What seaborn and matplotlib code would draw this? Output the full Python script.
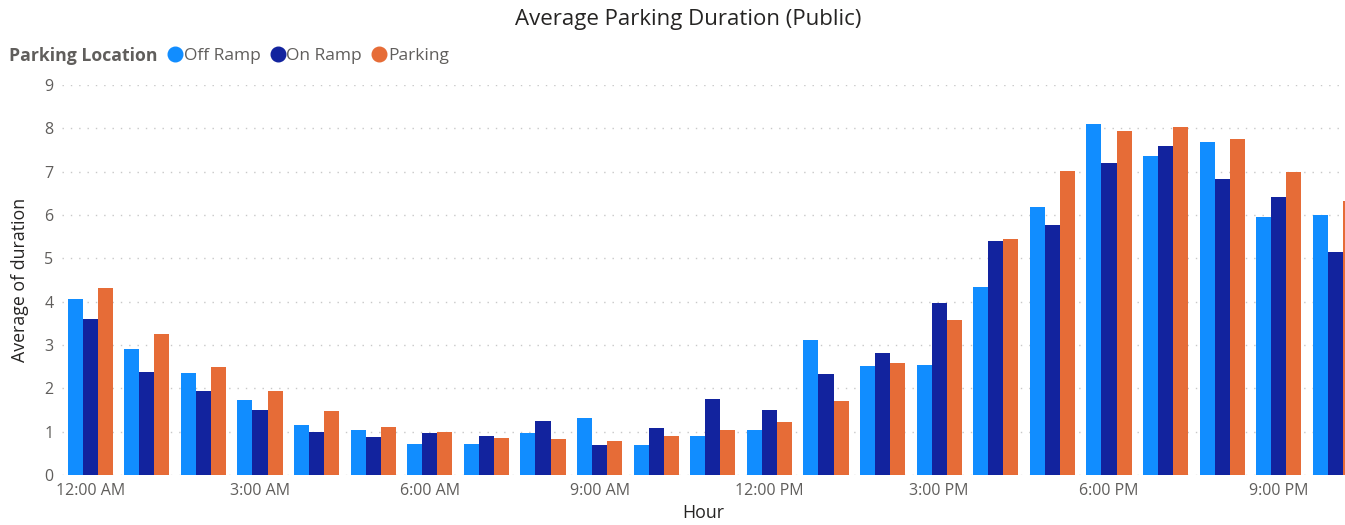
import matplotlib.pyplot as plt
import pandas as pd
import seaborn as sns
from matplotlib.lines import Line2D

hours = ['12:00 AM', '1:00 AM', '2:00 AM', '3:00 AM', '4:00 AM', '5:00 AM',
         '6:00 AM', '7:00 AM', '8:00 AM', '9:00 AM', '10:00 AM', '11:00 AM',
         '12:00 PM', '1:00 PM', '2:00 PM', '3:00 PM', '4:00 PM', '5:00 PM',
         '6:00 PM', '7:00 PM', '8:00 PM', '9:00 PM', '10:00 PM']

off_ramp = [4.05, 2.90, 2.36, 1.73, 1.16, 1.05, 0.71, 0.71, 0.98, 1.32, 0.70, 0.90,
            1.04, 3.12, 2.51, 2.54, 4.34, 6.19, 8.09, 7.37, 7.69, 5.96, 5.99]
on_ramp = [3.60, 2.38, 1.95, 1.49, 1.00, 0.88, 0.98, 0.89, 1.25, 0.69, 1.09, 1.75,
           1.50, 2.32, 2.81, 3.98, 5.39, 5.78, 7.20, 7.58, 6.84, 6.42, 5.14]
parking = [4.32, 3.25, 2.49, 1.93, 1.47, 1.10, 1.00, 0.86, 0.83, 0.79, 0.90, 1.04,
           1.23, 1.70, 2.59, 3.58, 5.45, 7.01, 7.94, 8.02, 7.75, 6.99, 6.32]

locations = ['Off Ramp', 'On Ramp', 'Parking']
plt_colors = {'Off Ramp': '#118DFF', 'On Ramp': '#12239E', 'Parking': '#E66C37'}

df = pd.DataFrame({
    'hour': hours * 3,
    'duration': off_ramp + on_ramp + parking,
    'location': [loc for loc in locations for _ in hours],
})

sns.set_style('white')
plt.rcParams['font.family'] = ['Open Sans', 'DejaVu Sans']

fig = plt.figure(figsize=(13.45, 5.25), dpi=100)
ax = fig.add_axes([0.046, 0.0952, 0.954, 0.743])

sns.barplot(df, x='hour', y='duration', hue='location', order=hours,
            hue_order=locations, palette=plt_colors, saturation=1,
            width=0.8, ax=ax, legend=False, linewidth=0)

ax.set_xlim(-0.5, 22.17)
ax.set_ylim(0, 9)
ax.set_yticks(range(0, 10))
ax.yaxis.grid(True, linestyle=(0, (1, 5)), color='#c8c8c8', linewidth=1)
ax.set_axisbelow(True)
for s in ax.spines.values():
    s.set_visible(False)

ax.set_xticks(range(0, 23, 3))
ax.set_xticklabels(hours[::3])
ax.tick_params(axis='both', length=0, labelsize=11.5, colors='#605E5C', pad=6)
ax.set_xlabel('Hour', fontsize=12.8, color='#252423', labelpad=3)
ax.set_ylabel('Average of duration', fontsize=12.8, color='#252423', labelpad=11)

fig.text(0.5115, 0.963, 'Average Parking Duration (Public)', ha='center', va='center',
         fontsize=16, color='#252423')

fig.text(0.007, 0.894, 'Parking Location', ha='left', va='center', fontsize=12.7,
         fontweight='bold', color='#605E5C')
handles = [Line2D([], [], marker='o', linestyle='', markersize=10.5,
                  color=plt_colors[loc]) for loc in locations]
fig.legend(handles, locations, loc='center left', bbox_to_anchor=(0.112, 0.894),
           ncol=3, frameon=False, fontsize=12.5, handletextpad=-0.5,
           columnspacing=0.0, labelcolor='#605E5C', borderaxespad=0)

plt.savefig('out.png', dpi=100)
